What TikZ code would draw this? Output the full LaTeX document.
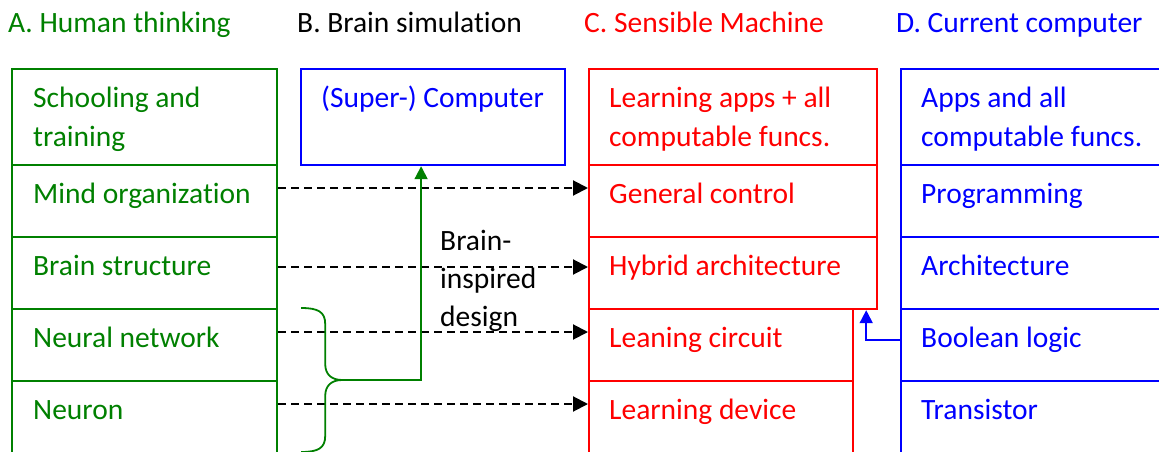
\documentclass[tikz,border=0pt]{standalone}
\usepackage{fontspec}
\setmainfont[Ligatures=NoCommon]{Carlito}
\usetikzlibrary{arrows.meta,calc}
\definecolor{cgreen}{RGB}{0,128,0}
\definecolor{cred}{RGB}{255,0,0}
\definecolor{cblue}{RGB}{0,0,255}
\begin{document}
\begin{tikzpicture}[x=1pt,y=-1pt,
  every node/.style={font=\fontsize{29.5}{39}\selectfont},
  cell/.style 2 args={draw,line width=2.2pt,rectangle,inner sep=0pt,anchor=north west,minimum width=#1,minimum height=#2},
  celltext/.style={anchor=base west,inner sep=0pt,align=left},
  dasharrow/.style={draw=black,line width=2pt,dash pattern=on 8pt off 5pt,-{Triangle[length=15pt,width=15pt]}},
  garrow/.style={draw=cgreen,line width=1.8pt,-{Triangle[length=13pt,width=13pt]}},
  barrow/.style={draw=cblue,line width=1.8pt,-{Triangle[length=13pt,width=13pt]}},
  brace/.style={draw=cgreen,line width=1.8pt}
]
\useasboundingbox (0,0) rectangle (1159,452);

% headers
\node[celltext,text=cgreen] (hA) at (8,33) {A. Human thinking};
\node[celltext,text=black] (hB) at (297,33) {B. Brain simulation};
\node[celltext,text=cred] (hC) at (584,33) {C. Sensible Machine};
\node[celltext,text=cblue] (hD) at (896,33) {D. Current computer};

% column A
\begin{scope}[every node/.append style={draw=cgreen}]
\node[cell={265pt}{96pt}] (A1) at (11,68) {};
\node[cell={265pt}{72pt}] (A2) at (11,164) {};
\node[cell={265pt}{72pt}] (A3) at (11,236) {};
\node[cell={265pt}{72pt}] (A4) at (11,308) {};
\node[cell={265pt}{84pt}] (A5) at (11,380) {};
\end{scope}
% column B
\node[cell={264pt}{96pt},draw=cblue] (B1) at (300,68) {};
% column C
\begin{scope}[every node/.append style={draw=cred}]
\node[cell={288pt}{96pt}] (C1) at (588,68) {};
\node[cell={288pt}{72pt}] (C2) at (588,164) {};
\node[cell={288pt}{72pt}] (C3) at (588,236) {};
\node[cell={264pt}{72pt}] (C4) at (588,308) {};
\node[cell={264pt}{84pt}] (C5) at (588,380) {};
\end{scope}
% column D
\begin{scope}[every node/.append style={draw=cblue}]
\node[cell={290pt}{96pt}] (D1) at (900,68) {};
\node[cell={290pt}{72pt}] (D2) at (900,164) {};
\node[cell={290pt}{72pt}] (D3) at (900,236) {};
\node[cell={290pt}{72pt}] (D4) at (900,308) {};
\node[cell={290pt}{84pt}] (D5) at (900,380) {};
\end{scope}

% texts A
\begin{scope}[every node/.append style={text=cgreen}]
\node[celltext] (tA1) at ($(A1.north west)+(22,78)$) {Schooling and\\training};
\node[celltext] (tA2) at ($(A2.north west)+(22,39)$) {Mind organization};
\node[celltext] (tA3) at ($(A3.north west)+(22,39)$) {Brain structure};
\node[celltext] (tA4) at ($(A4.north west)+(22,39)$) {Neural network};
\node[celltext] (tA5) at ($(A5.north west)+(22,39)$) {Neuron};
\end{scope}
\node[celltext,text=cblue] (tB1) at ($(B1.north west)+(21,39)$) {(Super-) Computer};
\begin{scope}[every node/.append style={text=cred}]
\node[celltext] (tC1) at ($(C1.north west)+(21,78)$) {Learning apps + all\\computable funcs.};
\node[celltext] (tC2) at ($(C2.north west)+(21,39)$) {General control};
\node[celltext] (tC3) at ($(C3.north west)+(21,39)$) {Hybrid architecture};
\node[celltext] (tC4) at ($(C4.north west)+(21,39)$) {Leaning circuit};
\node[celltext] (tC5) at ($(C5.north west)+(21,39)$) {Learning device};
\end{scope}
\begin{scope}[every node/.append style={text=cblue}]
\node[celltext] (tD1) at ($(D1.north west)+(21,78)$) {Apps and all\\computable funcs.};
\node[celltext] (tD2) at ($(D2.north west)+(21,39)$) {Programming};
\node[celltext] (tD3) at ($(D3.north west)+(21,39)$) {Architecture};
\node[celltext] (tD4) at ($(D4.north west)+(21,39)$) {Boolean logic};
\node[celltext] (tD5) at ($(D5.north west)+(21,39)$) {Transistor};
\end{scope}

% brain-inspired label
\node[celltext,text=black,font=\fontsize{29.5}{38}\selectfont] (lbl) at (440,326) {Brain-\\inspired\\design};

% dashed arrows
\draw[dasharrow] ($(A2.north east)+(0,24)$) -- ($(C2.north west)+(0,24)$);
\draw[dasharrow] ($(A3.north east)+(0,31)$) -- ($(C3.north west)+(0,31)$);
\draw[dasharrow] ($(A4.north east)+(0,24)$) -- ($(C4.north west)+(0,24)$);
\draw[dasharrow] ($(A5.north east)+(0,24)$) -- ($(C5.north west)+(0,24)$);

% brace
\coordinate (brtop) at ($(A4.north east)+(23,0)$);
\coordinate (brtip) at ($(A5.north east)+(64,0)$);
\coordinate (brbot) at ($(A5.north east)+(23,72)$);
\draw[brace] (brtop) .. controls ($(brtop)+(17,0)$) and ($(brtop)+(24,4)$) .. ($(brtop)+(24,16)$)
  -- ($(brtip)+(-17,-16)$) .. controls ($(brtip)+(-17,-5)$) and ($(brtip)+(-10,0)$) .. (brtip)
  .. controls ($(brtip)+(-10,0)$) and ($(brtip)+(-17,5)$) .. ($(brtip)+(-17,16)$)
  -- ($(brbot)+(24,-16)$) .. controls ($(brbot)+(24,-4)$) and ($(brbot)+(17,0)$) .. (brbot);

% green arrow
\draw[garrow] (brtip) -| ([xshift=-12pt]B1.south);
% blue arrow
\draw[barrow] ([yshift=5pt]D4.west) -| ([xshift=-12pt]C3.south east);
\end{tikzpicture}
\end{document}
